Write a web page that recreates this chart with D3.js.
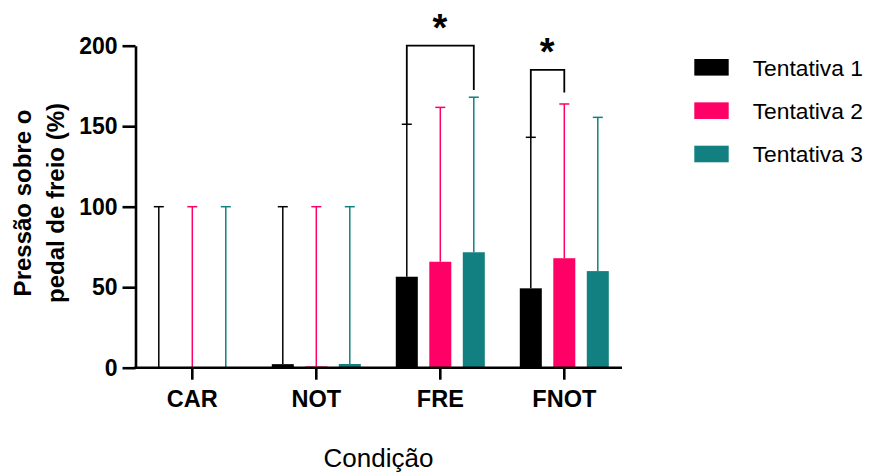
<!DOCTYPE html>
<html>
<head>
<meta charset="utf-8">
<script src="https://cdn.jsdelivr.net/npm/d3@7"></script>
<style>
  body { margin: 0; background: #fff; }
  svg { display: block; font-family: Arial, "Liberation Sans", sans-serif; }
</style>
</head>
<body>
<svg id="chart" width="873" height="473"></svg>
<script>
// data
const categories = ["CAR", "NOT", "FRE", "FNOT"];
const series = ["Tentativa 1", "Tentativa 2", "Tentativa 3"];
const colors = ["#000000", "#fe0066", "#128080"];

// means per category, one array per attempt
const mean1 = [0, 2.2, 56.5, 49.3];
const mean2 = [0, 0.8, 65.8, 68.0];
const mean3 = [0, 2.3, 71.7, 60.0];

// standard deviations (upper error bars only)
const sd1 = [100, 97.8, 94.7, 93.8];
const sd2 = [100, 99.2, 95.9, 95.8];
const sd3 = [100, 97.7, 96.3, 95.5];

const yTicks = [0, 50, 100, 150, 200];

// significance brackets: category, first / second attempt, top and right leg end
const sigCategory = ["FRE", "FNOT"];
const sigFrom = [0, 0];
const sigTo = [2, 1];
const sigTop = [200, 185];
const sigRightEnd = [172.5, 171];

const means = [mean1, mean2, mean3];
const sds = [sd1, sd2, sd3];

const svg = d3.select("#chart");

const y = d3.scaleLinear().domain([0, 200]).range([367.7, 45.7]);
const x = d3.scaleBand().domain(categories).range([130.3, 626.3]);
const xSub = d3.scaleBand()
  .domain(d3.range(series.length))
  .range([-50.25, 50.25])
  .paddingInner(0.343)
  .paddingOuter(0.1715);

const axisX0 = 135.5;
const center = (c) => x(c) + x.bandwidth() / 2;
const barMid = (c, s) => center(c) + xSub(s) + xSub.bandwidth() / 2;

// flat records for the bars
const records = [];
series.forEach((name, s) => {
  categories.forEach((c, i) => {
    records.push({ c, s, mean: means[s][i], sd: sds[s][i] });
  });
});

// error bars (drawn first, bars sit on top)
const err = svg.append("g").attr("class", "errors");
err.selectAll(".err-line")
  .data(records)
  .enter()
  .append("line")
  .attr("x1", (d) => barMid(d.c, d.s))
  .attr("x2", (d) => barMid(d.c, d.s))
  .attr("y1", (d) => y(d.mean))
  .attr("y2", (d) => y(d.mean + d.sd))
  .attr("stroke", (d) => colors[d.s])
  .attr("stroke-width", 1.5);
err.selectAll(".err-cap")
  .data(records)
  .enter()
  .append("line")
  .attr("x1", (d) => barMid(d.c, d.s) - 5)
  .attr("x2", (d) => barMid(d.c, d.s) + 5)
  .attr("y1", (d) => y(d.mean + d.sd))
  .attr("y2", (d) => y(d.mean + d.sd))
  .attr("stroke", (d) => colors[d.s])
  .attr("stroke-width", 1.5);

// bars
svg.append("g")
  .selectAll(".bar")
  .data(records)
  .enter()
  .append("rect")
  .attr("class", "bar")
  .attr("x", (d) => center(d.c) + xSub(d.s))
  .attr("width", xSub.bandwidth())
  .attr("y", (d) => y(d.mean))
  .attr("height", (d) => y(0) - y(d.mean))
  .style("fill", (d) => colors[d.s]);

// significance brackets
const sig = svg.append("g").attr("class", "sig");
sigCategory.forEach((c, k) => {
  const i = categories.indexOf(c);
  const xa = barMid(c, sigFrom[k]);
  const xb = barMid(c, sigTo[k]);
  const yLeft = y(means[sigFrom[k]][i] + sds[sigFrom[k]][i]);
  const yTop = y(sigTop[k]);
  sig.append("path")
    .attr("d", `M${xa},${yLeft}V${yTop}H${xb}V${y(sigRightEnd[k])}`)
    .attr("fill", "none")
    .attr("stroke", "#000")
    .attr("stroke-width", 1.8);
  sig.append("text")
    .attr("x", (xa + xb) / 2 - 0.5)
    .attr("y", yTop - 5)
    .attr("text-anchor", "middle")
    .style("font-size", "38px")
    .style("font-weight", "bold")
    .text("*");
});

// y axis
const yAxis = svg.append("g")
  .attr("transform", `translate(${axisX0},0)`)
  .call(d3.axisLeft(y).tickValues(yTicks).tickSize(13).tickSizeOuter(0).tickPadding(5));
yAxis.select(".domain").attr("stroke-width", 2.6);
yAxis.selectAll(".tick line").attr("stroke-width", 2.6);
yAxis.selectAll(".tick text")
  .style("font-size", "23px")
  .style("font-weight", "bold")
  .style("font-family", "Arial, 'Liberation Sans', sans-serif")
  .attr("fill", "#000");

// x axis
const xAxis = svg.append("g")
  .attr("transform", `translate(0,${y(0)})`)
  .call(d3.axisBottom(x).tickSize(12).tickSizeOuter(0).tickPadding(11));
xAxis.select(".domain").remove();
xAxis.append("line")
  .attr("x1", axisX0 - 1.3)
  .attr("x2", 622)
  .attr("stroke", "#000")
  .attr("stroke-width", 2.6);
xAxis.selectAll(".tick line").attr("stroke-width", 2.6);
xAxis.selectAll(".tick text")
  .style("font-size", "23.5px")
  .style("font-weight", "bold")
  .style("font-family", "Arial, 'Liberation Sans', sans-serif")
  .attr("fill", "#000");

// axis titles
const yTitle = svg.append("text")
  .attr("transform", "translate(0,203) rotate(-90)")
  .attr("text-anchor", "middle")
  .style("font-size", "24px")
  .style("font-weight", "bold");
yTitle.append("tspan").attr("x", 0).attr("y", 31).text("Pressão sobre o");
yTitle.append("tspan").attr("x", 0).attr("y", 64).text("pedal de freio (%)");

svg.append("text")
  .attr("x", 378.5)
  .attr("y", 466.7)
  .attr("text-anchor", "middle")
  .style("font-size", "26px")
  .text("Condição");

// legend
const legend = svg.append("g")
  .selectAll(".legend-item")
  .data(series)
  .enter()
  .append("g")
  .attr("class", "legend-item")
  .attr("transform", (d, i) => `translate(694.3,${67.3 + i * 43.35})`);
legend.append("rect")
  .attr("x", 0)
  .attr("y", -8.3)
  .attr("width", 34.4)
  .attr("height", 16.6)
  .style("fill", (d, i) => colors[i]);
legend.append("text")
  .attr("x", 58.4)
  .attr("dy", "0.36em")
  .style("font-size", "22.8px")
  .text((d) => d);
</script>
</body>
</html>
